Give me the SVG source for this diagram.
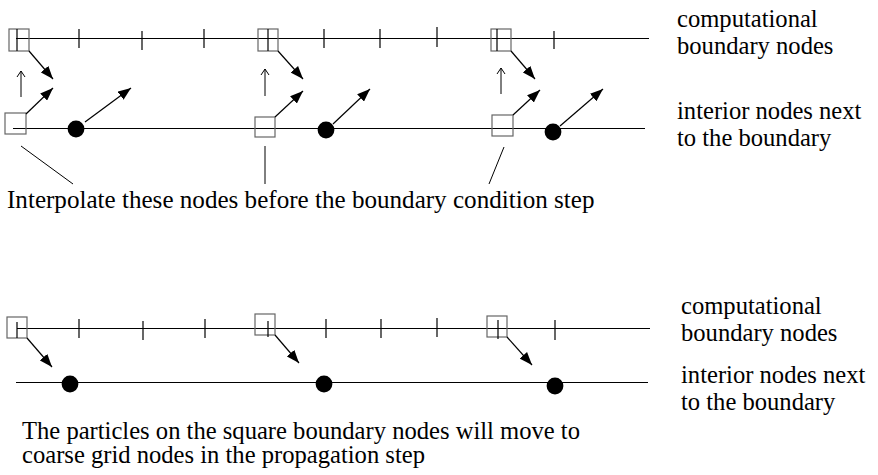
<svg xmlns="http://www.w3.org/2000/svg" width="878" height="475" viewBox="0 0 878 475">
  <defs>
    <marker id="head" markerUnits="userSpaceOnUse" markerWidth="14" markerHeight="10" refX="13" refY="5" orient="auto">
      <path d="M0,0 L13,5 L0,10 Z" fill="#000"/>
    </marker>
    <style>
      .grid { stroke: #000; stroke-width: 1.2; fill: none; }
      .tick { stroke: #000; stroke-width: 1.2; }
      .sq { fill: none; stroke: #666; stroke-width: 1.2; }
      .mv { stroke: #000; stroke-width: 1.2; fill: none; marker-end: url(#head); }
      .up { stroke: #000; stroke-width: 1; fill: none; }
      .lead { stroke: #000; stroke-width: 1; }
      .dot { fill: #000; }
      .lbl { font-size: 24.6px; fill: #000; }
      .cap { font-size: 25.1px; }
    </style>
  </defs>

  <!-- upper panel: grid lines -->
  <g id="upper-grid">
    <line class="grid" x1="16" y1="38.5" x2="649" y2="38.5"/>
    <line class="grid" x1="13" y1="128.5" x2="645" y2="128.5"/>
    <line class="tick" x1="79" y1="29" x2="79" y2="48"/>
    <line class="tick" x1="142" y1="31" x2="142" y2="50"/>
    <line class="tick" x1="204" y1="29" x2="204" y2="48"/>
    <line class="tick" x1="324" y1="29" x2="324" y2="48"/>
    <line class="tick" x1="380" y1="29" x2="380" y2="48"/>
    <line class="tick" x1="437" y1="27" x2="437" y2="47"/>
    <line class="tick" x1="554" y1="31" x2="554" y2="49"/>
  </g>

  <!-- upper panel: boundary nodes -->
  <g id="upper-boundary-1">
    <rect class="sq" x="9" y="29" width="20" height="22"/>
    <line class="tick" x1="17" y1="29" x2="17" y2="51"/>
  </g>
  <g id="upper-boundary-2">
    <rect class="sq" x="258" y="29" width="20" height="22"/>
    <line class="tick" x1="268" y1="29" x2="268" y2="51"/>
  </g>
  <g id="upper-boundary-3">
    <rect class="sq" x="491" y="29" width="20" height="22"/>
    <line class="tick" x1="497" y1="29" x2="497" y2="51"/>
  </g>

  <!-- upper panel: interior nodes -->
  <g id="upper-interior-1"><rect class="sq" x="5" y="113" width="21" height="21"/></g>
  <g id="upper-interior-2"><rect class="sq" x="255" y="117" width="20" height="20"/></g>
  <g id="upper-interior-3"><rect class="sq" x="492" y="115" width="21" height="21"/></g>
  <g id="upper-coarse-1"><circle class="dot" cx="76" cy="129" r="8.4"/></g>
  <g id="upper-coarse-2"><circle class="dot" cx="326" cy="130" r="8.4"/></g>
  <g id="upper-coarse-3"><circle class="dot" cx="553" cy="132" r="8.4"/></g>

  <!-- upper panel: connectors -->
  <g id="upper-connectors">
    <line class="mv" x1="29" y1="51" x2="53" y2="79"/>
    <line class="mv" x1="278" y1="51" x2="303" y2="79"/>
    <line class="mv" x1="511" y1="51" x2="535" y2="79"/>
    <line class="mv" x1="26" y1="114" x2="53" y2="88"/>
    <line class="mv" x1="275" y1="117" x2="303" y2="91"/>
    <line class="mv" x1="513" y1="115" x2="540" y2="90"/>
    <line class="mv" x1="85" y1="122" x2="131" y2="88"/>
    <line class="mv" x1="333" y1="124" x2="370" y2="89"/>
    <line class="mv" x1="560" y1="126" x2="603" y2="89"/>
    <path class="up" d="M21,97 L21,71 M17,77 L21,71 L25,77"/>
    <path class="up" d="M265,96 L265,69 M261,75 L265,69 L269,75"/>
    <path class="up" d="M501,94 L501,68 M497,74 L501,68 L505,74"/>
    <line class="lead" x1="21" y1="146" x2="73" y2="184"/>
    <line class="lead" x1="265" y1="146" x2="265" y2="184"/>
    <line class="lead" x1="504" y1="147" x2="489" y2="184"/>
  </g>

  <!-- lower panel: grid lines -->
  <g id="lower-grid">
    <line class="grid" x1="17" y1="328.5" x2="650" y2="328.5"/>
    <line class="grid" x1="16" y1="382.5" x2="648" y2="382.5"/>
    <line class="tick" x1="79" y1="319" x2="79" y2="338"/>
    <line class="tick" x1="143" y1="321" x2="143" y2="340"/>
    <line class="tick" x1="205" y1="319" x2="205" y2="338"/>
    <line class="tick" x1="326" y1="319" x2="326" y2="338"/>
    <line class="tick" x1="381" y1="319" x2="381" y2="338"/>
    <line class="tick" x1="437" y1="318" x2="437" y2="337"/>
    <line class="tick" x1="555" y1="320" x2="555" y2="340"/>
  </g>

  <!-- lower panel: nodes -->
  <g id="lower-boundary-1">
    <rect class="sq" x="7" y="317" width="20" height="21"/>
    <line class="tick" x1="17" y1="322" x2="17" y2="338"/>
  </g>
  <g id="lower-boundary-2">
    <rect class="sq" x="255" y="314" width="20" height="21"/>
    <line class="tick" x1="268" y1="321" x2="268" y2="337"/>
  </g>
  <g id="lower-boundary-3">
    <rect class="sq" x="487" y="316" width="20" height="21"/>
    <line class="tick" x1="498" y1="320" x2="498" y2="339"/>
  </g>
  <g id="lower-coarse-1"><circle class="dot" cx="70" cy="384" r="8.4"/></g>
  <g id="lower-coarse-2"><circle class="dot" cx="324" cy="384" r="8.4"/></g>
  <g id="lower-coarse-3"><circle class="dot" cx="555" cy="386" r="8.4"/></g>

  <!-- lower panel: connectors -->
  <g id="lower-connectors">
    <line class="mv" x1="27" y1="338" x2="52" y2="367"/>
    <line class="mv" x1="275" y1="335" x2="299" y2="363"/>
    <line class="mv" x1="507" y1="337" x2="532" y2="365"/>
  </g>

  <!-- labels -->
  <g id="labels" class="lbl" font-family="'Liberation Serif', 'DejaVu Serif', serif">
    <text x="677" y="27">computational</text>
    <text x="677" y="54">boundary nodes</text>
    <text x="677" y="119">interior nodes next</text>
    <text x="677" y="146">to the boundary</text>
    <text class="cap" x="7" y="208">Interpolate these nodes before the boundary condition step</text>
    <text x="681" y="314">computational</text>
    <text x="681" y="341">boundary nodes</text>
    <text x="681" y="383">interior nodes next</text>
    <text x="681" y="410">to the boundary</text>
    <text x="22" y="439">The particles on the square boundary nodes will move to</text>
    <text x="22" y="463">coarse grid nodes in the propagation step</text>
  </g>
</svg>
